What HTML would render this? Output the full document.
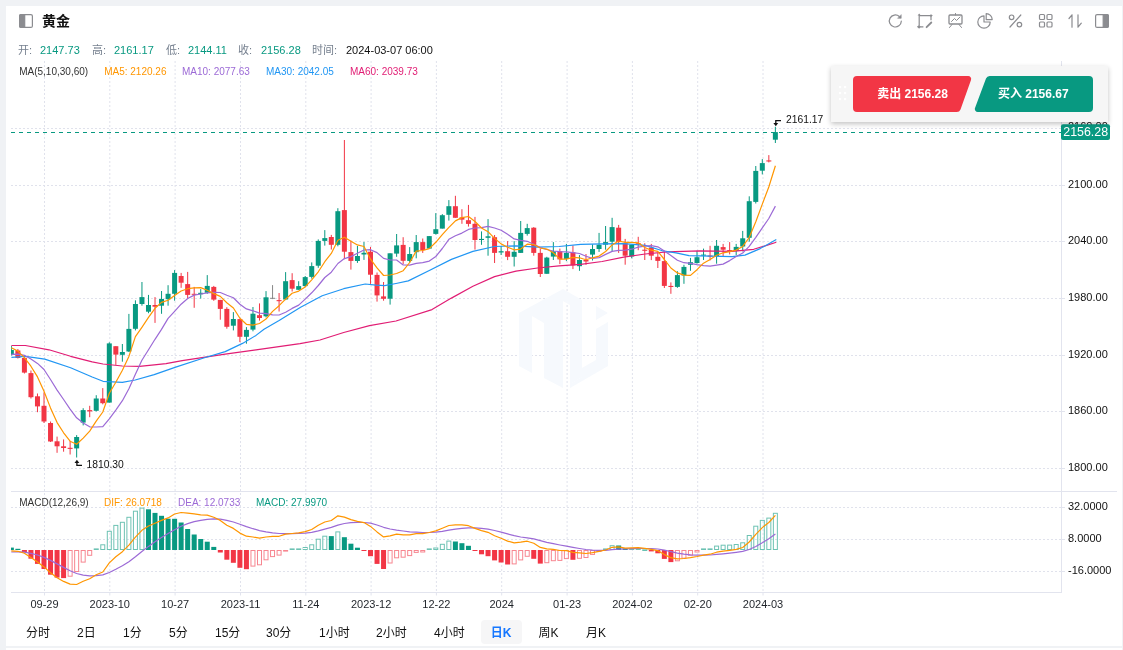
<!DOCTYPE html>
<html lang="zh-CN"><head><meta charset="utf-8"><title>黄金</title>
<style>
html,body{margin:0;padding:0}
body{width:1123px;height:650px;overflow:hidden;background:#f0f2f5;position:relative;font-family:"Liberation Sans","Noto Sans CJK SC",sans-serif;color:#1f2329}
.panel{position:absolute;left:6px;top:6px;width:1116px;height:640px;background:#fff}
.panel2{position:absolute;left:6px;top:648px;width:1116px;height:2px;background:#fff}
.abs{position:absolute;white-space:nowrap}
.title{left:42px;top:11px;font-size:14px;font-weight:bold;line-height:20px;color:#111}
.ohlc{top:42px;font-size:11px;line-height:16px}
.lb{color:#76808f} .gv{color:#089981}
.tab{top:624px;font-size:12px;line-height:18px;color:#111}
.tabsel{left:481px;top:620px;width:41px;height:24px;background:#f6f6f7;border-radius:4px}
.obox{left:831px;top:66px;width:276.5px;height:56px;background:#f6f6f6;box-shadow:0 2px 5px rgba(0,0,0,.24)}
.btxt{top:86px;font-size:12px;font-weight:bold;color:#fff;line-height:16px;text-align:center}
svg{position:absolute;left:0;top:0}
</style></head><body>
<div class="panel"></div><div class="panel2"></div>
<svg width="1123" height="650" viewBox="0 0 1123 650">
<line x1="11" x2="1061" y1="128.5" y2="128.5" stroke="#e0e2ec" stroke-dasharray="2 2"/>
<line x1="11" x2="1061" y1="185.5" y2="185.5" stroke="#e0e2ec" stroke-dasharray="2 2"/>
<line x1="11" x2="1061" y1="241.5" y2="241.5" stroke="#e0e2ec" stroke-dasharray="2 2"/>
<line x1="11" x2="1061" y1="298.5" y2="298.5" stroke="#e0e2ec" stroke-dasharray="2 2"/>
<line x1="11" x2="1061" y1="355.5" y2="355.5" stroke="#e0e2ec" stroke-dasharray="2 2"/>
<line x1="11" x2="1061" y1="411.5" y2="411.5" stroke="#e0e2ec" stroke-dasharray="2 2"/>
<line x1="11" x2="1061" y1="468.5" y2="468.5" stroke="#e0e2ec" stroke-dasharray="2 2"/>
<line x1="44.5" x2="44.5" y1="61" y2="592" stroke="#e0e2ec" stroke-dasharray="2 2"/>
<line x1="109.8" x2="109.8" y1="61" y2="592" stroke="#e0e2ec" stroke-dasharray="2 2"/>
<line x1="175.1" x2="175.1" y1="61" y2="592" stroke="#e0e2ec" stroke-dasharray="2 2"/>
<line x1="240.5" x2="240.5" y1="61" y2="592" stroke="#e0e2ec" stroke-dasharray="2 2"/>
<line x1="305.8" x2="305.8" y1="61" y2="592" stroke="#e0e2ec" stroke-dasharray="2 2"/>
<line x1="371.1" x2="371.1" y1="61" y2="592" stroke="#e0e2ec" stroke-dasharray="2 2"/>
<line x1="436.4" x2="436.4" y1="61" y2="592" stroke="#e0e2ec" stroke-dasharray="2 2"/>
<line x1="501.7" x2="501.7" y1="61" y2="592" stroke="#e0e2ec" stroke-dasharray="2 2"/>
<line x1="567.1" x2="567.1" y1="61" y2="592" stroke="#e0e2ec" stroke-dasharray="2 2"/>
<line x1="632.4" x2="632.4" y1="61" y2="592" stroke="#e0e2ec" stroke-dasharray="2 2"/>
<line x1="697.7" x2="697.7" y1="61" y2="592" stroke="#e0e2ec" stroke-dasharray="2 2"/>
<line x1="763.0" x2="763.0" y1="61" y2="592" stroke="#e0e2ec" stroke-dasharray="2 2"/>
<line x1="11" x2="1061" y1="507.5" y2="507.5" stroke="#e0e2ec" stroke-dasharray="2 2"/>
<line x1="11" x2="1061" y1="539.5" y2="539.5" stroke="#e0e2ec" stroke-dasharray="2 2"/>
<line x1="11" x2="1061" y1="571.5" y2="571.5" stroke="#e0e2ec" stroke-dasharray="2 2"/>
<line x1="1061.5" x2="1061.5" y1="61" y2="592" stroke="#e2e4ee"/>
<line x1="11" x2="1117" y1="491.5" y2="491.5" stroke="#e2e4ee"/>
<line x1="11" x2="1062" y1="592.5" y2="592.5" stroke="#e2e4ee"/>
<line x1="1061" x2="1065" y1="185.5" y2="185.5" stroke="#e2e4ee"/>
<line x1="1061" x2="1065" y1="241.5" y2="241.5" stroke="#e2e4ee"/>
<line x1="1061" x2="1065" y1="298.5" y2="298.5" stroke="#e2e4ee"/>
<line x1="1061" x2="1065" y1="355.5" y2="355.5" stroke="#e2e4ee"/>
<line x1="1061" x2="1065" y1="411.5" y2="411.5" stroke="#e2e4ee"/>
<line x1="1061" x2="1065" y1="468.5" y2="468.5" stroke="#e2e4ee"/>
<line x1="1061" x2="1065" y1="507.5" y2="507.5" stroke="#e2e4ee"/>
<line x1="1061" x2="1065" y1="539.5" y2="539.5" stroke="#e2e4ee"/>
<line x1="1061" x2="1065" y1="571.5" y2="571.5" stroke="#e2e4ee"/>
<line x1="44.5" x2="44.5" y1="592" y2="595.5" stroke="#e2e4ee"/>
<line x1="109.8" x2="109.8" y1="592" y2="595.5" stroke="#e2e4ee"/>
<line x1="175.1" x2="175.1" y1="592" y2="595.5" stroke="#e2e4ee"/>
<line x1="240.5" x2="240.5" y1="592" y2="595.5" stroke="#e2e4ee"/>
<line x1="305.8" x2="305.8" y1="592" y2="595.5" stroke="#e2e4ee"/>
<line x1="371.1" x2="371.1" y1="592" y2="595.5" stroke="#e2e4ee"/>
<line x1="436.4" x2="436.4" y1="592" y2="595.5" stroke="#e2e4ee"/>
<line x1="501.7" x2="501.7" y1="592" y2="595.5" stroke="#e2e4ee"/>
<line x1="567.1" x2="567.1" y1="592" y2="595.5" stroke="#e2e4ee"/>
<line x1="632.4" x2="632.4" y1="592" y2="595.5" stroke="#e2e4ee"/>
<line x1="697.7" x2="697.7" y1="592" y2="595.5" stroke="#e2e4ee"/>
<line x1="763.0" x2="763.0" y1="592" y2="595.5" stroke="#e2e4ee"/>
<g fill="#f6f9fd" id="wm"><polygon points="519,313 563,289 563,388 544,378 544,323 532,316 532,373 519,366"/><polygon points="563,289 582,300 582,377 570,384 570,305 563,301"/><polygon points="582,300 582,377 570,384 570,388 608,366 608,322 596,329 596,360 582,368"/><polygon points="596,306 608,313 596,320"/></g>
<clipPath id="cc"><rect x="11" y="61" width="1050" height="531"/></clipPath><g clip-path="url(#cc)">
<rect x="10.85" y="346.0" width="1" height="9.5" fill="#089981"/>
<rect x="8.85" y="350.0" width="5" height="4.9" fill="#089981"/>
<rect x="17.38" y="349.0" width="1" height="9.5" fill="#f23645"/>
<rect x="15.38" y="350.5" width="5" height="7.5" fill="#f23645"/>
<rect x="23.91" y="356.9" width="1" height="16.6" fill="#f23645"/>
<rect x="21.91" y="358.0" width="5" height="14.6" fill="#f23645"/>
<rect x="30.44" y="370.5" width="1" height="28.0" fill="#f23645"/>
<rect x="28.44" y="373.1" width="5" height="24.1" fill="#f23645"/>
<rect x="36.97" y="393.5" width="1" height="18.7" fill="#f23645"/>
<rect x="34.97" y="396.3" width="5" height="10.1" fill="#f23645"/>
<rect x="43.50" y="392.4" width="1" height="30.6" fill="#f23645"/>
<rect x="41.50" y="405.8" width="5" height="15.7" fill="#f23645"/>
<rect x="50.03" y="421.5" width="1" height="20.5" fill="#f23645"/>
<rect x="48.03" y="423.0" width="5" height="18.5" fill="#f23645"/>
<rect x="56.56" y="436.6" width="1" height="16.2" fill="#f23645"/>
<rect x="54.56" y="441.3" width="5" height="5.0" fill="#f23645"/>
<rect x="63.09" y="439.4" width="1" height="12.3" fill="#f23645"/>
<rect x="61.09" y="446.3" width="5" height="1.7" fill="#f23645"/>
<rect x="69.62" y="440.9" width="1" height="13.6" fill="#f23645"/>
<rect x="67.62" y="447.8" width="5" height="1.1" fill="#f23645"/>
<rect x="76.15" y="435.1" width="1" height="22.4" fill="#089981"/>
<rect x="74.15" y="437.0" width="5" height="11.4" fill="#089981"/>
<rect x="82.68" y="408.2" width="1" height="17.2" fill="#089981"/>
<rect x="80.68" y="410.1" width="5" height="12.5" fill="#089981"/>
<rect x="89.21" y="405.8" width="1" height="11.4" fill="#f23645"/>
<rect x="87.21" y="410.1" width="5" height="1.3" fill="#f23645"/>
<rect x="95.74" y="395.2" width="1" height="16.2" fill="#089981"/>
<rect x="93.74" y="398.5" width="5" height="12.3" fill="#089981"/>
<rect x="102.27" y="388.1" width="1" height="16.2" fill="#f23645"/>
<rect x="100.27" y="398.5" width="5" height="4.7" fill="#f23645"/>
<rect x="108.80" y="342.3" width="1" height="60.3" fill="#089981"/>
<rect x="106.80" y="343.4" width="5" height="59.2" fill="#089981"/>
<rect x="115.33" y="346.2" width="1" height="18.7" fill="#f23645"/>
<rect x="113.33" y="346.2" width="5" height="8.4" fill="#f23645"/>
<rect x="121.86" y="344.0" width="1" height="17.7" fill="#089981"/>
<rect x="119.86" y="352.0" width="5" height="2.8" fill="#089981"/>
<rect x="128.39" y="313.9" width="1" height="38.1" fill="#089981"/>
<rect x="126.39" y="328.9" width="5" height="22.6" fill="#089981"/>
<rect x="134.92" y="300.3" width="1" height="30.1" fill="#089981"/>
<rect x="132.92" y="304.0" width="5" height="24.8" fill="#089981"/>
<rect x="141.45" y="282.0" width="1" height="23.7" fill="#089981"/>
<rect x="139.45" y="297.1" width="5" height="6.9" fill="#089981"/>
<rect x="147.98" y="294.9" width="1" height="18.3" fill="#089981"/>
<rect x="145.98" y="305.0" width="5" height="6.7" fill="#089981"/>
<rect x="154.51" y="297.1" width="1" height="25.8" fill="#f23645"/>
<rect x="152.51" y="305.0" width="5" height="1.7" fill="#f23645"/>
<rect x="161.04" y="291.0" width="1" height="22.8" fill="#089981"/>
<rect x="159.04" y="299.0" width="5" height="6.7" fill="#089981"/>
<rect x="167.57" y="285.2" width="1" height="20.5" fill="#089981"/>
<rect x="165.57" y="293.8" width="5" height="5.4" fill="#089981"/>
<rect x="174.10" y="270.1" width="1" height="30.6" fill="#089981"/>
<rect x="172.10" y="272.9" width="5" height="20.9" fill="#089981"/>
<rect x="180.63" y="272.9" width="1" height="14.9" fill="#f23645"/>
<rect x="178.63" y="276.0" width="5" height="6.7" fill="#f23645"/>
<rect x="187.16" y="271.9" width="1" height="26.7" fill="#f23645"/>
<rect x="185.16" y="284.1" width="5" height="10.8" fill="#f23645"/>
<rect x="193.69" y="286.9" width="1" height="20.9" fill="#f23645"/>
<rect x="191.69" y="293.8" width="5" height="1.0" fill="#f23645"/>
<rect x="200.22" y="289.1" width="1" height="9.5" fill="#089981"/>
<rect x="198.22" y="292.8" width="5" height="1.5" fill="#089981"/>
<rect x="206.75" y="275.1" width="1" height="18.7" fill="#089981"/>
<rect x="204.75" y="285.9" width="5" height="6.9" fill="#089981"/>
<rect x="213.28" y="285.9" width="1" height="14.9" fill="#f23645"/>
<rect x="211.28" y="286.9" width="5" height="12.7" fill="#f23645"/>
<rect x="219.81" y="299.9" width="1" height="19.8" fill="#f23645"/>
<rect x="217.81" y="299.9" width="5" height="9.0" fill="#f23645"/>
<rect x="226.34" y="307.2" width="1" height="21.5" fill="#f23645"/>
<rect x="224.34" y="308.9" width="5" height="17.9" fill="#f23645"/>
<rect x="232.87" y="312.1" width="1" height="18.3" fill="#089981"/>
<rect x="230.87" y="319.0" width="5" height="6.7" fill="#089981"/>
<rect x="239.40" y="319.1" width="1" height="23.0" fill="#f23645"/>
<rect x="237.40" y="319.1" width="5" height="17.7" fill="#f23645"/>
<rect x="245.93" y="327.1" width="1" height="16.6" fill="#089981"/>
<rect x="243.93" y="329.9" width="5" height="6.9" fill="#089981"/>
<rect x="252.46" y="307.0" width="1" height="24.3" fill="#089981"/>
<rect x="250.46" y="313.7" width="5" height="15.9" fill="#089981"/>
<rect x="258.99" y="303.4" width="1" height="17.2" fill="#f23645"/>
<rect x="256.99" y="315.2" width="5" height="2.8" fill="#f23645"/>
<rect x="265.52" y="291.1" width="1" height="26.3" fill="#089981"/>
<rect x="263.52" y="297.3" width="5" height="19.0" fill="#089981"/>
<rect x="272.05" y="285.1" width="1" height="14.0" fill="#888888"/>
<rect x="270.05" y="297.8" width="5" height="1.0" fill="#888888"/>
<rect x="278.58" y="293.0" width="1" height="18.5" fill="#f23645"/>
<rect x="276.58" y="300.1" width="5" height="1.1" fill="#f23645"/>
<rect x="285.11" y="272.1" width="1" height="28.0" fill="#089981"/>
<rect x="283.11" y="281.2" width="5" height="18.3" fill="#089981"/>
<rect x="291.64" y="273.2" width="1" height="18.3" fill="#f23645"/>
<rect x="289.64" y="280.1" width="5" height="8.6" fill="#f23645"/>
<rect x="298.17" y="281.2" width="1" height="8.6" fill="#089981"/>
<rect x="296.17" y="286.1" width="5" height="3.7" fill="#089981"/>
<rect x="304.70" y="276.0" width="1" height="11.2" fill="#089981"/>
<rect x="302.70" y="277.1" width="5" height="9.0" fill="#089981"/>
<rect x="311.23" y="262.4" width="1" height="16.2" fill="#089981"/>
<rect x="309.23" y="266.1" width="5" height="10.8" fill="#089981"/>
<rect x="317.76" y="239.4" width="1" height="28.4" fill="#089981"/>
<rect x="315.76" y="240.9" width="5" height="24.8" fill="#089981"/>
<rect x="324.29" y="230.1" width="1" height="15.5" fill="#089981"/>
<rect x="322.29" y="238.1" width="5" height="2.8" fill="#089981"/>
<rect x="330.82" y="234.9" width="1" height="14.6" fill="#f23645"/>
<rect x="328.82" y="237.0" width="5" height="7.8" fill="#f23645"/>
<rect x="337.35" y="208.2" width="1" height="38.1" fill="#089981"/>
<rect x="335.35" y="211.2" width="5" height="33.6" fill="#089981"/>
<rect x="343.88" y="140.0" width="1" height="119.2" fill="#f23645"/>
<rect x="341.88" y="210.1" width="5" height="41.6" fill="#f23645"/>
<rect x="350.41" y="240.5" width="1" height="29.1" fill="#f23645"/>
<rect x="348.41" y="252.1" width="5" height="8.8" fill="#f23645"/>
<rect x="356.94" y="245.9" width="1" height="17.0" fill="#089981"/>
<rect x="354.94" y="256.0" width="5" height="5.0" fill="#089981"/>
<rect x="363.47" y="242.0" width="1" height="17.9" fill="#089981"/>
<rect x="361.47" y="252.8" width="5" height="1.7" fill="#089981"/>
<rect x="370.00" y="246.9" width="1" height="37.0" fill="#f23645"/>
<rect x="368.00" y="251.7" width="5" height="23.0" fill="#f23645"/>
<rect x="376.53" y="272.5" width="1" height="29.1" fill="#f23645"/>
<rect x="374.53" y="274.9" width="5" height="20.5" fill="#f23645"/>
<rect x="383.06" y="282.0" width="1" height="18.7" fill="#f23645"/>
<rect x="381.06" y="296.4" width="5" height="2.4" fill="#f23645"/>
<rect x="389.59" y="253.3" width="1" height="51.3" fill="#089981"/>
<rect x="387.59" y="253.3" width="5" height="45.4" fill="#089981"/>
<rect x="396.12" y="234.0" width="1" height="22.8" fill="#089981"/>
<rect x="394.12" y="245.4" width="5" height="8.2" fill="#089981"/>
<rect x="402.65" y="237.2" width="1" height="26.9" fill="#f23645"/>
<rect x="400.65" y="244.9" width="5" height="15.9" fill="#f23645"/>
<rect x="409.18" y="247.1" width="1" height="15.5" fill="#089981"/>
<rect x="407.18" y="254.0" width="5" height="6.9" fill="#089981"/>
<rect x="415.71" y="235.0" width="1" height="23.3" fill="#089981"/>
<rect x="413.71" y="242.1" width="5" height="10.1" fill="#089981"/>
<rect x="422.24" y="238.5" width="1" height="14.4" fill="#f23645"/>
<rect x="420.24" y="242.1" width="5" height="8.0" fill="#f23645"/>
<rect x="428.77" y="236.1" width="1" height="12.5" fill="#089981"/>
<rect x="426.77" y="236.1" width="5" height="12.5" fill="#089981"/>
<rect x="435.30" y="213.1" width="1" height="21.5" fill="#089981"/>
<rect x="433.30" y="229.2" width="5" height="4.7" fill="#089981"/>
<rect x="441.83" y="214.1" width="1" height="14.4" fill="#089981"/>
<rect x="439.83" y="215.2" width="5" height="13.4" fill="#089981"/>
<rect x="448.36" y="200.1" width="1" height="20.5" fill="#089981"/>
<rect x="446.36" y="206.2" width="5" height="8.6" fill="#089981"/>
<rect x="454.89" y="195.8" width="1" height="22.0" fill="#f23645"/>
<rect x="452.89" y="206.2" width="5" height="11.6" fill="#f23645"/>
<rect x="461.42" y="209.2" width="1" height="14.6" fill="#f23645"/>
<rect x="459.42" y="217.4" width="5" height="2.2" fill="#f23645"/>
<rect x="467.95" y="204.9" width="1" height="21.7" fill="#f23645"/>
<rect x="465.95" y="220.2" width="5" height="3.7" fill="#f23645"/>
<rect x="474.48" y="216.9" width="1" height="32.7" fill="#f23645"/>
<rect x="472.48" y="223.8" width="5" height="16.2" fill="#f23645"/>
<rect x="481.01" y="231.4" width="1" height="13.4" fill="#089981"/>
<rect x="479.01" y="238.9" width="5" height="1.1" fill="#089981"/>
<rect x="487.54" y="219.1" width="1" height="36.6" fill="#089981"/>
<rect x="485.54" y="236.3" width="5" height="1.5" fill="#089981"/>
<rect x="494.07" y="235.0" width="1" height="28.0" fill="#f23645"/>
<rect x="492.07" y="237.2" width="5" height="15.7" fill="#f23645"/>
<rect x="500.60" y="246.0" width="1" height="9.0" fill="#089981"/>
<rect x="498.60" y="251.2" width="5" height="1.3" fill="#089981"/>
<rect x="507.13" y="241.1" width="1" height="19.0" fill="#f23645"/>
<rect x="505.13" y="251.2" width="5" height="5.6" fill="#f23645"/>
<rect x="513.66" y="241.1" width="1" height="25.4" fill="#089981"/>
<rect x="511.66" y="251.8" width="5" height="5.0" fill="#089981"/>
<rect x="520.19" y="221.0" width="1" height="31.9" fill="#089981"/>
<rect x="518.19" y="232.9" width="5" height="20.0" fill="#089981"/>
<rect x="526.72" y="223.8" width="1" height="11.8" fill="#089981"/>
<rect x="524.72" y="228.1" width="5" height="5.8" fill="#089981"/>
<rect x="533.25" y="227.1" width="1" height="28.6" fill="#f23645"/>
<rect x="531.25" y="227.7" width="5" height="25.2" fill="#f23645"/>
<rect x="539.78" y="248.6" width="1" height="28.4" fill="#f23645"/>
<rect x="537.78" y="252.9" width="5" height="21.1" fill="#f23645"/>
<rect x="546.31" y="256.8" width="1" height="17.0" fill="#089981"/>
<rect x="544.31" y="257.6" width="5" height="16.2" fill="#089981"/>
<rect x="552.84" y="242.1" width="1" height="17.9" fill="#089981"/>
<rect x="550.84" y="251.4" width="5" height="5.2" fill="#089981"/>
<rect x="559.37" y="248.6" width="1" height="15.5" fill="#f23645"/>
<rect x="557.37" y="251.2" width="5" height="8.2" fill="#f23645"/>
<rect x="565.90" y="243.9" width="1" height="17.2" fill="#089981"/>
<rect x="563.90" y="252.9" width="5" height="6.0" fill="#089981"/>
<rect x="572.43" y="245.4" width="1" height="23.7" fill="#f23645"/>
<rect x="570.43" y="252.3" width="5" height="13.1" fill="#f23645"/>
<rect x="578.96" y="255.1" width="1" height="15.7" fill="#089981"/>
<rect x="576.96" y="260.0" width="5" height="6.2" fill="#089981"/>
<rect x="585.49" y="254.0" width="1" height="10.8" fill="#f23645"/>
<rect x="583.49" y="260.0" width="5" height="1.5" fill="#f23645"/>
<rect x="592.02" y="244.3" width="1" height="16.2" fill="#089981"/>
<rect x="590.02" y="249.0" width="5" height="5.6" fill="#089981"/>
<rect x="598.55" y="232.9" width="1" height="19.0" fill="#089981"/>
<rect x="596.55" y="244.7" width="5" height="4.3" fill="#089981"/>
<rect x="605.08" y="226.0" width="1" height="23.7" fill="#089981"/>
<rect x="603.08" y="242.1" width="5" height="2.6" fill="#089981"/>
<rect x="611.61" y="217.8" width="1" height="33.6" fill="#089981"/>
<rect x="609.61" y="227.1" width="5" height="14.6" fill="#089981"/>
<rect x="618.14" y="224.9" width="1" height="28.0" fill="#f23645"/>
<rect x="616.14" y="227.7" width="5" height="14.4" fill="#f23645"/>
<rect x="624.67" y="238.9" width="1" height="25.8" fill="#f23645"/>
<rect x="622.67" y="243.2" width="5" height="12.5" fill="#f23645"/>
<rect x="631.20" y="244.7" width="1" height="13.6" fill="#089981"/>
<rect x="629.20" y="244.7" width="5" height="11.8" fill="#089981"/>
<rect x="637.73" y="236.8" width="1" height="13.4" fill="#f23645"/>
<rect x="635.73" y="243.2" width="5" height="1.1" fill="#f23645"/>
<rect x="644.26" y="243.2" width="1" height="16.8" fill="#f23645"/>
<rect x="642.26" y="249.7" width="5" height="1.1" fill="#f23645"/>
<rect x="650.79" y="243.9" width="1" height="16.2" fill="#f23645"/>
<rect x="648.79" y="247.5" width="5" height="8.2" fill="#f23645"/>
<rect x="657.32" y="252.9" width="1" height="15.1" fill="#f23645"/>
<rect x="655.32" y="256.8" width="5" height="4.1" fill="#f23645"/>
<rect x="663.85" y="251.8" width="1" height="36.2" fill="#f23645"/>
<rect x="661.85" y="261.1" width="5" height="24.8" fill="#f23645"/>
<rect x="670.38" y="282.4" width="1" height="11.4" fill="#f23645"/>
<rect x="668.38" y="285.9" width="5" height="1.1" fill="#f23645"/>
<rect x="676.91" y="271.2" width="1" height="16.6" fill="#089981"/>
<rect x="674.91" y="275.1" width="5" height="11.8" fill="#089981"/>
<rect x="683.44" y="264.8" width="1" height="19.0" fill="#089981"/>
<rect x="681.44" y="266.9" width="5" height="8.6" fill="#089981"/>
<rect x="689.97" y="257.9" width="1" height="12.9" fill="#089981"/>
<rect x="687.97" y="262.2" width="5" height="2.6" fill="#089981"/>
<rect x="696.50" y="250.8" width="1" height="12.9" fill="#089981"/>
<rect x="694.50" y="257.2" width="5" height="5.8" fill="#089981"/>
<rect x="703.03" y="248.6" width="1" height="11.4" fill="#089981"/>
<rect x="701.03" y="254.6" width="5" height="1.0" fill="#089981"/>
<rect x="709.56" y="245.8" width="1" height="14.6" fill="#f23645"/>
<rect x="707.56" y="255.5" width="5" height="1.1" fill="#f23645"/>
<rect x="716.09" y="240.0" width="1" height="23.7" fill="#089981"/>
<rect x="714.09" y="245.8" width="5" height="10.3" fill="#089981"/>
<rect x="722.62" y="243.9" width="1" height="12.3" fill="#f23645"/>
<rect x="720.62" y="247.1" width="5" height="2.6" fill="#f23645"/>
<rect x="729.15" y="242.1" width="1" height="12.3" fill="#f23645"/>
<rect x="727.15" y="250.1" width="5" height="1.3" fill="#f23645"/>
<rect x="735.68" y="243.9" width="1" height="11.2" fill="#089981"/>
<rect x="733.68" y="246.9" width="5" height="3.9" fill="#089981"/>
<rect x="742.21" y="230.9" width="1" height="20.5" fill="#089981"/>
<rect x="740.21" y="238.3" width="5" height="8.2" fill="#089981"/>
<rect x="748.74" y="196.3" width="1" height="45.4" fill="#089981"/>
<rect x="746.74" y="201.2" width="5" height="36.6" fill="#089981"/>
<rect x="755.27" y="166.0" width="1" height="37.5" fill="#089981"/>
<rect x="753.27" y="170.9" width="5" height="31.0" fill="#089981"/>
<rect x="761.80" y="159.1" width="1" height="15.3" fill="#089981"/>
<rect x="759.80" y="163.1" width="5" height="7.6" fill="#089981"/>
<rect x="768.33" y="155.1" width="1" height="7.3" fill="#f23645"/>
<rect x="766.33" y="160.4" width="5" height="1.1" fill="#f23645"/>
<rect x="774.86" y="126.8" width="1" height="16.2" fill="#089981"/>
<rect x="772.86" y="132.1" width="5" height="7.6" fill="#089981"/>
</g>
<polyline points="11.4,345.5 25.4,345.5 49.0,349.8 70.6,356.3 92.2,361.9 103.0,364.0 122.3,366.0 139.5,366.3 154.2,364.9 166.0,363.6 182.2,360.6 203.7,357.4 225.2,354.2 256.0,349.8 300.0,343.6 320.0,340.0 343.7,332.5 369.5,325.6 396.0,321.0 432.0,309.6 451.4,298.1 472.9,286.3 494.5,276.6 516.0,271.2 537.5,268.0 559.0,265.8 580.6,264.3 602.1,261.5 623.7,257.2 645.2,254.0 666.8,251.8 699.8,250.8 732.2,251.4 753.7,249.3 766.6,245.4 776.3,242.2" fill="none" stroke="#e11d74" stroke-width="1.2" stroke-linejoin="round"/>
<polyline points="11.4,357.4 25.4,356.3 44.8,359.1 70.6,367.7 92.2,377.0 103.0,381.3 122.3,382.3 135.2,380.0 154.2,374.6 175.7,367.1 203.7,358.0 225.2,351.6 242.5,343.4 256.0,335.4 264.0,329.2 279.1,320.6 300.6,307.3 322.2,295.8 343.7,288.7 365.2,284.0 376.0,285.2 384.6,285.7 396.0,283.5 408.3,280.9 429.8,270.2 451.4,259.4 472.9,251.4 494.5,246.5 516.0,245.8 537.5,247.1 559.0,246.5 580.6,244.3 602.1,243.9 623.7,243.7 645.2,245.4 662.5,250.8 676.0,252.9 689.0,255.7 710.6,256.2 732.2,256.6 745.0,255.1 760.2,248.6 776.3,239.4" fill="none" stroke="#2196f3" stroke-width="1.2" stroke-linejoin="round"/>
<polyline points="11.3,354.4 17.9,354.1 24.4,355.3 30.9,358.9 37.5,363.4 44.0,369.5 50.5,379.5 57.1,390.1 63.6,399.5 70.1,409.1 76.6,417.8 83.2,423.0 89.7,426.8 96.2,427.0 102.8,426.6 109.3,418.8 115.8,410.1 122.4,400.7 128.9,388.8 135.4,374.3 141.9,360.3 148.5,349.8 155.0,339.3 161.5,329.4 168.1,318.4 174.6,311.4 181.1,304.2 187.7,298.5 194.2,295.1 200.7,294.0 207.2,292.8 213.8,292.3 220.3,292.5 226.8,295.3 233.4,297.8 239.9,304.2 246.4,308.9 253.0,310.8 259.5,313.1 266.0,313.6 272.6,314.8 279.1,315.0 285.6,312.2 292.1,308.4 298.7,305.1 305.2,299.1 311.7,292.8 318.3,285.5 324.8,277.5 331.3,272.2 337.9,263.5 344.4,258.6 350.9,256.6 357.4,253.3 364.0,250.0 370.5,249.7 377.0,252.6 383.6,258.4 390.1,260.0 396.6,260.0 403.2,265.0 409.7,265.2 416.2,263.3 422.7,262.7 429.3,261.1 435.8,256.5 442.3,248.5 448.9,239.3 455.4,235.7 461.9,233.1 468.5,229.4 475.0,228.0 481.5,227.7 488.0,226.3 494.6,228.0 501.1,230.2 507.6,234.3 514.2,238.9 520.7,240.4 527.2,241.3 533.8,244.2 540.3,247.6 546.8,249.5 553.3,251.0 559.9,251.6 566.4,251.8 572.9,252.6 579.5,253.5 586.0,256.3 592.5,258.4 599.1,257.6 605.6,254.4 612.1,251.4 618.6,250.4 625.2,250.1 631.7,249.2 638.2,247.1 644.8,246.2 651.3,245.6 657.8,246.8 664.4,250.9 670.9,255.4 677.4,260.2 683.9,262.7 690.5,263.3 697.0,264.6 703.5,265.6 710.1,266.2 716.6,265.2 723.1,264.1 729.7,260.6 736.2,256.6 742.7,253.0 749.2,246.4 755.8,237.3 762.3,227.8 768.8,218.5 775.4,206.1" fill="none" stroke="#9c6ad6" stroke-width="1.2" stroke-linejoin="round"/>
<polyline points="11.3,347.8 17.9,351.1 24.4,357.6 30.9,366.2 37.5,376.9 44.0,391.2 50.5,407.9 57.1,422.6 63.6,432.8 70.1,441.2 76.6,444.3 83.2,438.1 89.7,431.1 96.2,421.2 102.8,412.0 109.3,393.3 115.8,382.2 122.4,370.3 128.9,356.4 135.4,336.6 141.9,327.3 148.5,317.4 155.0,308.3 161.5,302.4 168.1,300.3 174.6,295.5 181.1,291.0 187.7,288.7 194.2,287.8 200.7,287.6 207.2,290.2 213.8,293.6 220.3,296.4 226.8,302.8 233.4,308.0 239.9,318.2 246.4,324.3 253.0,325.2 259.5,323.5 266.0,319.1 272.6,311.4 279.1,305.7 285.6,299.2 292.1,293.3 298.7,291.1 305.2,286.9 311.7,279.8 318.3,271.8 324.8,261.7 331.3,253.4 337.9,240.2 344.4,237.3 350.9,241.3 357.4,244.9 364.0,246.5 370.5,259.2 377.0,267.9 383.6,275.5 390.1,275.0 396.6,273.5 403.2,270.7 409.7,262.5 416.2,251.1 422.7,250.5 429.3,248.6 435.8,242.3 442.3,234.6 448.9,227.4 455.4,220.9 461.9,217.6 468.5,216.5 475.0,221.5 481.5,228.0 488.0,231.7 494.6,238.4 501.1,243.9 507.6,247.2 514.2,249.8 520.7,249.1 527.2,244.2 533.8,244.5 540.3,248.0 546.8,249.1 553.3,252.8 559.9,259.1 566.4,259.1 572.9,257.3 579.5,257.8 586.0,259.8 592.5,257.8 599.1,256.1 605.6,251.5 612.1,244.9 618.6,241.0 625.2,242.4 631.7,242.4 638.2,242.8 644.8,247.5 651.3,250.2 657.8,251.3 664.4,259.5 670.9,268.0 677.4,272.9 683.9,275.1 690.5,275.4 697.0,269.7 703.5,263.2 710.1,259.5 716.6,255.3 723.1,252.8 729.7,251.6 736.2,250.1 742.7,246.4 749.2,237.5 755.8,221.7 762.3,204.1 768.8,187.0 775.4,165.8" fill="none" stroke="#ff9600" stroke-width="1.2" stroke-linejoin="round"/>
<line x1="11" x2="1061" y1="132.5" y2="132.5" stroke="#089981" stroke-dasharray="4 4"/>
<g clip-path="url(#cc)">
<rect x="8.85" y="547.6" width="5" height="2.4" fill="#089981"/>
<rect x="15.38" y="548.8" width="5" height="1.2" fill="#089981"/>
<rect x="21.91" y="550.0" width="5" height="2.3" fill="#f23645"/>
<rect x="28.44" y="550.0" width="5" height="8.7" fill="#f23645"/>
<rect x="34.97" y="550.0" width="5" height="13.9" fill="#f23645"/>
<rect x="41.50" y="550.0" width="5" height="19.0" fill="#f23645"/>
<rect x="48.03" y="550.0" width="5" height="24.7" fill="#f23645"/>
<rect x="54.56" y="550.0" width="5" height="27.6" fill="#f23645"/>
<rect x="61.09" y="550.0" width="5" height="28.1" fill="#f23645"/>
<rect x="68.12" y="550.5" width="4" height="25.7" fill="none" stroke="#f78690" stroke-width="1"/>
<rect x="74.65" y="550.5" width="4" height="21.0" fill="none" stroke="#f78690" stroke-width="1"/>
<rect x="81.18" y="550.5" width="4" height="11.6" fill="none" stroke="#f78690" stroke-width="1"/>
<rect x="87.71" y="550.5" width="4" height="4.8" fill="none" stroke="#f78690" stroke-width="1"/>
<rect x="93.74" y="548.4" width="5" height="1.6" fill="#6dc2b3"/>
<rect x="100.77" y="544.8" width="4" height="4.7" fill="none" stroke="#6dc2b3" stroke-width="1"/>
<rect x="107.30" y="531.3" width="4" height="18.2" fill="none" stroke="#6dc2b3" stroke-width="1"/>
<rect x="113.83" y="525.4" width="4" height="24.1" fill="none" stroke="#6dc2b3" stroke-width="1"/>
<rect x="120.36" y="522.3" width="4" height="27.2" fill="none" stroke="#6dc2b3" stroke-width="1"/>
<rect x="126.89" y="517.3" width="4" height="32.2" fill="none" stroke="#6dc2b3" stroke-width="1"/>
<rect x="133.42" y="511.2" width="4" height="38.3" fill="none" stroke="#6dc2b3" stroke-width="1"/>
<rect x="139.95" y="508.1" width="4" height="41.4" fill="none" stroke="#6dc2b3" stroke-width="1"/>
<rect x="145.98" y="509.3" width="5" height="40.7" fill="#089981"/>
<rect x="152.51" y="512.9" width="5" height="37.1" fill="#089981"/>
<rect x="159.04" y="515.8" width="5" height="34.2" fill="#089981"/>
<rect x="165.57" y="518.7" width="5" height="31.3" fill="#089981"/>
<rect x="172.10" y="518.8" width="5" height="31.2" fill="#089981"/>
<rect x="178.63" y="522.5" width="5" height="27.5" fill="#089981"/>
<rect x="185.16" y="529.0" width="5" height="21.0" fill="#089981"/>
<rect x="191.69" y="534.5" width="5" height="15.5" fill="#089981"/>
<rect x="198.22" y="539.0" width="5" height="11.0" fill="#089981"/>
<rect x="204.75" y="541.7" width="5" height="8.3" fill="#089981"/>
<rect x="211.28" y="546.9" width="5" height="3.1" fill="#089981"/>
<rect x="217.81" y="550.0" width="5" height="2.5" fill="#f23645"/>
<rect x="224.34" y="550.0" width="5" height="9.7" fill="#f23645"/>
<rect x="230.87" y="550.0" width="5" height="12.8" fill="#f23645"/>
<rect x="237.40" y="550.0" width="5" height="17.8" fill="#f23645"/>
<rect x="243.93" y="550.0" width="5" height="19.2" fill="#f23645"/>
<rect x="250.96" y="550.5" width="4" height="15.6" fill="none" stroke="#f78690" stroke-width="1"/>
<rect x="257.49" y="550.5" width="4" height="14.3" fill="none" stroke="#f78690" stroke-width="1"/>
<rect x="264.02" y="550.5" width="4" height="9.3" fill="none" stroke="#f78690" stroke-width="1"/>
<rect x="270.55" y="550.5" width="4" height="6.1" fill="none" stroke="#f78690" stroke-width="1"/>
<rect x="277.08" y="550.5" width="4" height="4.6" fill="none" stroke="#f78690" stroke-width="1"/>
<rect x="283.11" y="550.0" width="5" height="1.6" fill="#f78690"/>
<rect x="289.64" y="548.4" width="5" height="1.6" fill="#6dc2b3"/>
<rect x="296.17" y="548.4" width="5" height="1.6" fill="#6dc2b3"/>
<rect x="303.20" y="547.5" width="4" height="2.0" fill="none" stroke="#6dc2b3" stroke-width="1"/>
<rect x="309.73" y="544.8" width="4" height="4.7" fill="none" stroke="#6dc2b3" stroke-width="1"/>
<rect x="316.26" y="539.2" width="4" height="10.3" fill="none" stroke="#6dc2b3" stroke-width="1"/>
<rect x="322.79" y="536.2" width="4" height="13.3" fill="none" stroke="#6dc2b3" stroke-width="1"/>
<rect x="328.82" y="536.1" width="5" height="13.9" fill="#089981"/>
<rect x="335.85" y="531.9" width="4" height="17.6" fill="none" stroke="#6dc2b3" stroke-width="1"/>
<rect x="341.88" y="537.2" width="5" height="12.8" fill="#089981"/>
<rect x="348.41" y="543.7" width="5" height="6.3" fill="#089981"/>
<rect x="354.94" y="547.7" width="5" height="2.3" fill="#089981"/>
<rect x="361.47" y="550.0" width="5" height="1.0" fill="#f23645"/>
<rect x="368.00" y="550.0" width="5" height="6.2" fill="#f23645"/>
<rect x="374.53" y="550.0" width="5" height="13.9" fill="#f23645"/>
<rect x="381.06" y="550.0" width="5" height="19.0" fill="#f23645"/>
<rect x="388.09" y="550.5" width="4" height="12.5" fill="none" stroke="#f78690" stroke-width="1"/>
<rect x="394.62" y="550.5" width="4" height="7.3" fill="none" stroke="#f78690" stroke-width="1"/>
<rect x="401.15" y="550.5" width="4" height="6.7" fill="none" stroke="#f78690" stroke-width="1"/>
<rect x="407.68" y="550.5" width="4" height="5.1" fill="none" stroke="#f78690" stroke-width="1"/>
<rect x="414.21" y="550.5" width="4" height="1.9" fill="none" stroke="#f78690" stroke-width="1"/>
<rect x="420.74" y="550.5" width="4" height="1.5" fill="none" stroke="#f78690" stroke-width="1"/>
<rect x="426.77" y="548.4" width="5" height="1.6" fill="#6dc2b3"/>
<rect x="433.80" y="548.0" width="4" height="1.5" fill="none" stroke="#6dc2b3" stroke-width="1"/>
<rect x="440.33" y="544.3" width="4" height="5.2" fill="none" stroke="#6dc2b3" stroke-width="1"/>
<rect x="446.86" y="541.1" width="4" height="8.4" fill="none" stroke="#6dc2b3" stroke-width="1"/>
<rect x="452.89" y="541.5" width="5" height="8.5" fill="#089981"/>
<rect x="459.42" y="543.2" width="5" height="6.8" fill="#089981"/>
<rect x="465.95" y="545.8" width="5" height="4.2" fill="#089981"/>
<rect x="472.48" y="550.0" width="5" height="1.0" fill="#f23645"/>
<rect x="479.01" y="550.0" width="5" height="4.3" fill="#f23645"/>
<rect x="485.54" y="550.0" width="5" height="6.2" fill="#f23645"/>
<rect x="492.07" y="550.0" width="5" height="10.4" fill="#f23645"/>
<rect x="498.60" y="550.0" width="5" height="12.5" fill="#f23645"/>
<rect x="505.13" y="550.0" width="5" height="14.5" fill="#f23645"/>
<rect x="512.16" y="550.5" width="4" height="13.4" fill="none" stroke="#f78690" stroke-width="1"/>
<rect x="518.69" y="550.5" width="4" height="9.4" fill="none" stroke="#f78690" stroke-width="1"/>
<rect x="525.22" y="550.5" width="4" height="5.8" fill="none" stroke="#f78690" stroke-width="1"/>
<rect x="531.25" y="550.0" width="5" height="8.8" fill="#f23645"/>
<rect x="537.78" y="550.0" width="5" height="13.6" fill="#f23645"/>
<rect x="544.81" y="550.5" width="4" height="12.2" fill="none" stroke="#f78690" stroke-width="1"/>
<rect x="551.34" y="550.5" width="4" height="10.2" fill="none" stroke="#f78690" stroke-width="1"/>
<rect x="557.87" y="550.5" width="4" height="9.9" fill="none" stroke="#f78690" stroke-width="1"/>
<rect x="564.40" y="550.5" width="4" height="8.1" fill="none" stroke="#f78690" stroke-width="1"/>
<rect x="570.43" y="550.0" width="5" height="9.8" fill="#f23645"/>
<rect x="577.46" y="550.5" width="4" height="7.8" fill="none" stroke="#f78690" stroke-width="1"/>
<rect x="583.99" y="550.5" width="4" height="7.0" fill="none" stroke="#f78690" stroke-width="1"/>
<rect x="590.52" y="550.5" width="4" height="3.9" fill="none" stroke="#f78690" stroke-width="1"/>
<rect x="596.55" y="550.0" width="5" height="1.9" fill="#f78690"/>
<rect x="603.08" y="548.4" width="5" height="1.6" fill="#6dc2b3"/>
<rect x="610.11" y="545.7" width="4" height="3.8" fill="none" stroke="#6dc2b3" stroke-width="1"/>
<rect x="616.14" y="545.5" width="5" height="4.5" fill="#089981"/>
<rect x="622.67" y="548.4" width="5" height="1.6" fill="#089981"/>
<rect x="629.20" y="548.3" width="5" height="1.7" fill="#6dc2b3"/>
<rect x="635.73" y="548.3" width="5" height="1.7" fill="#6dc2b3"/>
<rect x="642.26" y="549.6" width="5" height="1.0" fill="#089981"/>
<rect x="648.79" y="550.0" width="5" height="1.4" fill="#f23645"/>
<rect x="655.32" y="550.0" width="5" height="3.3" fill="#f23645"/>
<rect x="661.85" y="550.0" width="5" height="8.9" fill="#f23645"/>
<rect x="668.38" y="550.0" width="5" height="12.1" fill="#f23645"/>
<rect x="675.41" y="550.5" width="4" height="10.3" fill="none" stroke="#f78690" stroke-width="1"/>
<rect x="681.94" y="550.5" width="4" height="7.7" fill="none" stroke="#f78690" stroke-width="1"/>
<rect x="688.47" y="550.5" width="4" height="4.7" fill="none" stroke="#f78690" stroke-width="1"/>
<rect x="695.00" y="550.5" width="4" height="1.5" fill="none" stroke="#f78690" stroke-width="1"/>
<rect x="701.03" y="548.4" width="5" height="1.6" fill="#6dc2b3"/>
<rect x="707.56" y="548.4" width="5" height="1.6" fill="#6dc2b3"/>
<rect x="714.59" y="546.1" width="4" height="3.4" fill="none" stroke="#6dc2b3" stroke-width="1"/>
<rect x="721.12" y="545.2" width="4" height="4.3" fill="none" stroke="#6dc2b3" stroke-width="1"/>
<rect x="727.65" y="545.1" width="4" height="4.4" fill="none" stroke="#6dc2b3" stroke-width="1"/>
<rect x="734.18" y="544.5" width="4" height="5.0" fill="none" stroke="#6dc2b3" stroke-width="1"/>
<rect x="740.71" y="542.8" width="4" height="6.7" fill="none" stroke="#6dc2b3" stroke-width="1"/>
<rect x="747.24" y="535.5" width="4" height="14.0" fill="none" stroke="#6dc2b3" stroke-width="1"/>
<rect x="753.77" y="526.2" width="4" height="23.3" fill="none" stroke="#6dc2b3" stroke-width="1"/>
<rect x="760.30" y="520.4" width="4" height="29.1" fill="none" stroke="#6dc2b3" stroke-width="1"/>
<rect x="766.83" y="518.1" width="4" height="31.4" fill="none" stroke="#6dc2b3" stroke-width="1"/>
<rect x="773.36" y="513.3" width="4" height="36.2" fill="none" stroke="#6dc2b3" stroke-width="1"/>
</g>
<polyline points="11.3,552.0 17.9,551.9 24.4,552.2 30.9,553.3 37.5,555.0 44.0,557.4 50.5,560.4 57.1,563.9 63.6,567.4 70.1,570.8 76.6,573.5 83.2,575.1 89.7,575.8 96.2,575.6 102.8,574.9 109.3,572.5 115.8,569.3 122.4,565.8 128.9,561.7 135.4,556.8 141.9,551.5 148.5,546.4 155.0,541.7 161.5,537.5 168.1,533.6 174.6,529.7 181.1,526.2 187.7,523.6 194.2,521.7 200.7,520.3 207.2,519.3 213.8,518.9 220.3,519.2 226.8,520.4 233.4,522.0 239.9,524.2 246.4,526.6 253.0,528.7 259.5,530.6 266.0,531.9 272.6,532.8 279.1,533.5 285.6,533.6 292.1,533.6 298.7,533.4 305.2,533.1 311.7,532.4 318.3,530.9 324.8,529.2 331.3,527.4 337.9,525.1 344.4,523.5 350.9,522.7 357.4,522.4 364.0,522.5 370.5,523.2 377.0,525.0 383.6,527.3 390.1,529.0 396.6,530.1 403.2,531.0 409.7,531.8 416.2,532.2 422.7,532.5 429.3,532.5 435.8,532.2 442.3,531.4 448.9,530.2 455.4,529.1 461.9,528.3 468.5,527.8 475.0,527.9 481.5,528.4 488.0,529.2 494.6,530.5 501.1,532.1 507.6,533.9 514.2,535.7 520.7,537.0 527.2,537.8 533.8,538.9 540.3,540.6 546.8,542.3 553.3,543.7 559.9,545.0 566.4,546.2 572.9,547.4 579.5,548.5 586.0,549.5 592.5,550.1 599.1,550.4 605.6,550.3 612.1,549.7 618.6,549.1 625.2,548.9 631.7,548.7 638.2,548.5 644.8,548.5 651.3,548.6 657.8,549.0 664.4,550.2 670.9,551.7 677.4,553.1 683.9,554.2 690.5,554.9 697.0,555.2 703.5,555.2 710.1,555.0 716.6,554.4 723.1,553.8 729.7,553.1 736.2,552.3 742.7,551.4 749.2,549.5 755.8,546.5 762.3,542.7 768.8,538.7 775.4,534.0" fill="none" stroke="#9c6ad6" stroke-width="1.2" stroke-linejoin="round"/>
<polyline points="11.3,550.8 17.9,551.3 24.4,553.3 30.9,557.6 37.5,561.9 44.0,566.9 50.5,572.8 57.1,577.7 63.6,581.4 70.1,584.1 76.6,584.5 83.2,581.3 89.7,578.7 96.2,574.8 102.8,572.0 109.3,562.9 115.8,556.8 122.4,551.7 128.9,545.1 135.4,537.1 141.9,530.3 148.5,526.0 155.0,523.2 161.5,520.4 168.1,517.9 174.6,514.0 181.1,512.5 187.7,513.1 194.2,513.9 200.7,514.8 207.2,515.1 213.8,517.3 220.3,520.4 226.8,525.2 233.4,528.4 239.9,533.1 246.4,536.2 253.0,537.0 259.5,538.2 266.0,537.0 272.6,536.3 279.1,536.3 285.6,534.1 292.1,533.5 298.7,532.9 305.2,531.6 311.7,529.5 318.3,525.3 324.8,522.0 331.3,520.5 337.9,515.8 344.4,517.1 350.9,519.6 357.4,521.3 364.0,522.6 370.5,526.4 377.0,531.9 383.6,536.9 390.1,535.8 396.6,534.2 403.2,534.9 409.7,534.8 416.2,533.6 422.7,533.7 429.3,532.5 435.8,530.9 442.3,528.3 448.9,525.5 455.4,524.9 461.9,524.9 468.5,525.7 475.0,528.4 481.5,530.6 488.0,532.3 494.6,535.7 501.1,538.3 507.6,541.1 514.2,542.9 520.7,542.2 527.2,541.2 533.8,543.3 540.3,547.4 546.8,548.9 553.3,549.3 559.9,550.5 566.4,550.7 572.9,552.3 579.5,552.9 586.0,553.5 592.5,552.6 599.1,551.3 605.6,550.0 612.1,547.3 618.6,546.9 625.2,548.1 631.7,547.9 638.2,547.7 644.8,548.3 651.3,549.3 657.8,550.7 664.4,554.6 670.9,557.7 677.4,558.8 683.9,558.5 690.5,557.7 697.0,556.5 703.5,555.1 710.1,554.2 716.6,552.2 723.1,551.1 729.7,550.4 736.2,549.3 742.7,547.5 749.2,542.0 755.8,534.3 762.3,527.6 768.8,522.5 775.4,515.4" fill="none" stroke="#ff9600" stroke-width="1.2" stroke-linejoin="round"/>
<text x="1068" y="129.6" font-size="11" fill="#111" font-family="Liberation Sans, Arial, sans-serif">2160.00</text>
<text x="1068" y="188.1" font-size="11" fill="#111" font-family="Liberation Sans, Arial, sans-serif">2100.00</text>
<text x="1068" y="244.1" font-size="11" fill="#111" font-family="Liberation Sans, Arial, sans-serif">2040.00</text>
<text x="1068" y="301.1" font-size="11" fill="#111" font-family="Liberation Sans, Arial, sans-serif">1980.00</text>
<text x="1068" y="358.1" font-size="11" fill="#111" font-family="Liberation Sans, Arial, sans-serif">1920.00</text>
<text x="1068" y="414.1" font-size="11" fill="#111" font-family="Liberation Sans, Arial, sans-serif">1860.00</text>
<text x="1068" y="471.1" font-size="11" fill="#111" font-family="Liberation Sans, Arial, sans-serif">1800.00</text>
<text x="1068" y="510.1" font-size="11" fill="#111" font-family="Liberation Sans, Arial, sans-serif">32.0000</text>
<text x="1068" y="542.1" font-size="11" fill="#111" font-family="Liberation Sans, Arial, sans-serif">8.0000</text>
<text x="1068" y="574.1" font-size="11" fill="#111" font-family="Liberation Sans, Arial, sans-serif">-16.0000</text>
<text x="44.5" y="608" font-size="11" fill="#1f2329" text-anchor="middle" font-family="Liberation Sans, Arial, sans-serif">09-29</text>
<text x="109.8" y="608" font-size="11" fill="#1f2329" text-anchor="middle" font-family="Liberation Sans, Arial, sans-serif">2023-10</text>
<text x="175.1" y="608" font-size="11" fill="#1f2329" text-anchor="middle" font-family="Liberation Sans, Arial, sans-serif">10-27</text>
<text x="240.5" y="608" font-size="11" fill="#1f2329" text-anchor="middle" font-family="Liberation Sans, Arial, sans-serif">2023-11</text>
<text x="305.8" y="608" font-size="11" fill="#1f2329" text-anchor="middle" font-family="Liberation Sans, Arial, sans-serif">11-24</text>
<text x="371.1" y="608" font-size="11" fill="#1f2329" text-anchor="middle" font-family="Liberation Sans, Arial, sans-serif">2023-12</text>
<text x="436.4" y="608" font-size="11" fill="#1f2329" text-anchor="middle" font-family="Liberation Sans, Arial, sans-serif">12-22</text>
<text x="501.7" y="608" font-size="11" fill="#1f2329" text-anchor="middle" font-family="Liberation Sans, Arial, sans-serif">2024</text>
<text x="567.1" y="608" font-size="11" fill="#1f2329" text-anchor="middle" font-family="Liberation Sans, Arial, sans-serif">01-23</text>
<text x="632.4" y="608" font-size="11" fill="#1f2329" text-anchor="middle" font-family="Liberation Sans, Arial, sans-serif">2024-02</text>
<text x="697.7" y="608" font-size="11" fill="#1f2329" text-anchor="middle" font-family="Liberation Sans, Arial, sans-serif">02-20</text>
<text x="763.0" y="608" font-size="11" fill="#1f2329" text-anchor="middle" font-family="Liberation Sans, Arial, sans-serif">2024-03</text>
<rect x="1061" y="124.2" width="49" height="15.7" rx="2" fill="#089981"/>
<text x="1063.3" y="135.6" font-size="12.4" fill="#fff" font-family="Liberation Sans, Arial, sans-serif">2156.28</text>
<path d="M775.8 124 V120.6 H781" fill="none" stroke="#111" stroke-width="1.3"/><path d="M773.4 123 L775.8 126.2 L778.2 123 Z" fill="#111"/>
<text x="786" y="123" font-size="10.3" fill="#111" font-family="Liberation Sans, Arial, sans-serif">2161.17</text>
<path d="M76.9 461.8 V465.3 H82" fill="none" stroke="#111" stroke-width="1.3"/><path d="M74.5 462.9 L76.9 459.7 L79.3 462.9 Z" fill="#111"/>
<text x="86.6" y="467.7" font-size="10.3" fill="#111" font-family="Liberation Sans, Arial, sans-serif">1810.30</text>
<text y="74.7" font-size="10" font-family="Liberation Sans, Arial, sans-serif"><tspan x="19.2" fill="#333">MA(5,10,30,60)</tspan><tspan x="104.2" fill="#ff9600">MA5: 2120.26</tspan><tspan x="182" fill="#9c6ad6">MA10: 2077.63</tspan><tspan x="266" fill="#2196f3">MA30: 2042.05</tspan><tspan x="350" fill="#e11d74">MA60: 2039.73</tspan></text>
<text y="505.7" font-size="10" font-family="Liberation Sans, Arial, sans-serif"><tspan x="19.2" fill="#333">MACD(12,26,9)</tspan><tspan x="104" fill="#ff9600">DIF: 26.0718</tspan><tspan x="178" fill="#9c6ad6">DEA: 12.0733</tspan><tspan x="256" fill="#089981">MACD: 27.9970</tspan></text>
</svg>
<svg width="1123" height="40" viewBox="0 0 1123 40" id="icons" fill="none" stroke="#8b8c90" stroke-width="1.2" stroke-linecap="round" stroke-linejoin="round">
<rect x="19.6" y="14.6" width="12.8" height="12.8" rx="1.5"/><path d="M19.6 16 a1.4 1.4 0 0 1 1.4 -1.4 H24.7 V27.4 H21 a1.4 1.4 0 0 1 -1.4 -1.4 Z" fill="#8b8c90"/>
<path d="M901.3 21.2 a6 6 0 1 1 -2 -4.7"/><path d="M901.2 15 v3.3 h-3.3 Z" fill="#8b8c90" stroke-width="0.6"/>
<path d="M919.2 15 V27 M919.2 15.6 H931 V20.2 M919.2 26.8 H923.4" stroke-linecap="butt"/><g fill="#8b8c90" stroke="none"><path d="M917.6 15.6 L919.2 13.4 L920.8 15.6 Z M917.6 26.6 L919.2 28.8 L920.8 26.6 Z M930.6 14 L932.8 15.6 L930.6 17.2 Z M918.9 25.2 L916.9 26.8 L918.9 28.4Z"/></g><path d="M926.6 27.2 L931.3 22.5" stroke-width="1.8"/>
<rect x="949" y="15" width="13" height="9" rx="1" stroke-width="1.3"/><path d="M955.5 13.5 V15 M952 24.5 L949.5 27.5 M959 24.5 L961.5 27.5 M951.5 21.5 L954.5 18.5 L956.5 20.5 L960 17" stroke-width="1"/>
<path d="M984 15.8 a6.2 6.2 0 1 0 6.2 6.2 H984 Z M986.2 13.6 a6 6 0 0 1 6 6 H986.2 Z"/>
<circle cx="1011.6" cy="17.3" r="2.3"/><circle cx="1019.4" cy="24.6" r="2.3"/><path d="M1020.8 15 L1010 27"/>
<rect x="1039.5" y="14.5" width="5" height="5" rx="1"/><rect x="1047" y="14.5" width="5" height="5" rx="1"/><rect x="1039.5" y="22" width="5" height="5" rx="1"/><rect x="1047" y="22" width="5" height="5" rx="1"/>
<path d="M1069 18.5 L1072 14.8 V27.2 M1078 14.8 V27.2 L1081.3 23.2"/>
<rect x="1095.6" y="14.6" width="12.8" height="12.8" rx="1.5"/><path d="M1103.2 14.6 H1107 a1.4 1.4 0 0 1 1.4 1.4 V26 a1.4 1.4 0 0 1 -1.4 1.4 H1103.2 Z" fill="#8b8c90"/>
</svg>
<div class="abs title">黄金</div>
<div class="abs ohlc lb" style="left:18px">开:</div><div class="abs ohlc gv" style="left:40px">2147.73</div>
<div class="abs ohlc lb" style="left:92px">高:</div><div class="abs ohlc gv" style="left:114px">2161.17</div>
<div class="abs ohlc lb" style="left:166px">低:</div><div class="abs ohlc gv" style="left:188px">2144.11</div>
<div class="abs ohlc lb" style="left:238px">收:</div><div class="abs ohlc gv" style="left:261px">2156.28</div>
<div class="abs ohlc lb" style="left:312px">时间:</div><div class="abs ohlc" style="left:346px;color:#111">2024-03-07 06:00</div>
<div class="abs obox"></div>
<svg width="1123" height="130" viewBox="0 0 1123 130">
<g fill="#fff"><rect x="839" y="86" width="2.2" height="2.2"/><rect x="844" y="86" width="2.2" height="2.2"/><rect x="839" y="92" width="2.2" height="2.2"/><rect x="844" y="92" width="2.2" height="2.2"/><rect x="839" y="98" width="2.2" height="2.2"/><rect x="844" y="98" width="2.2" height="2.2"/></g>
<path d="M857 76 H968.2 a3 3 0 0 1 2.8 4 L960.5 109.5 a4 4 0 0 1 -3.8 2.5 H857 a4 4 0 0 1 -4 -4 V80 a4 4 0 0 1 4 -4 Z" fill="#f23645"/>
<path d="M989.8 76 H1089 a4 4 0 0 1 4 4 V108 a4 4 0 0 1 -4 4 H977.8 a3 3 0 0 1 -2.8 -4 L986 78.5 a4 4 0 0 1 3.8 -2.5 Z" fill="#089981"/>
</svg>
<div class="abs btxt" style="left:854.5px;width:116px">卖出 2156.28</div>
<div class="abs btxt" style="left:974.3px;width:118px">买入 2156.67</div>
<div class="abs tabsel"></div>
<div class="abs tab" style="left:26px">分时</div>
<div class="abs tab" style="left:77px">2日</div>
<div class="abs tab" style="left:123px">1分</div>
<div class="abs tab" style="left:169px">5分</div>
<div class="abs tab" style="left:215px">15分</div>
<div class="abs tab" style="left:266px">30分</div>
<div class="abs tab" style="left:319px">1小时</div>
<div class="abs tab" style="left:376px">2小时</div>
<div class="abs tab" style="left:434px">4小时</div>
<div class="abs tab" style="left:490.7px;color:#1677ff;font-weight:600">日K</div>
<div class="abs tab" style="left:538.6px">周K</div>
<div class="abs tab" style="left:586px">月K</div>
</body></html>
